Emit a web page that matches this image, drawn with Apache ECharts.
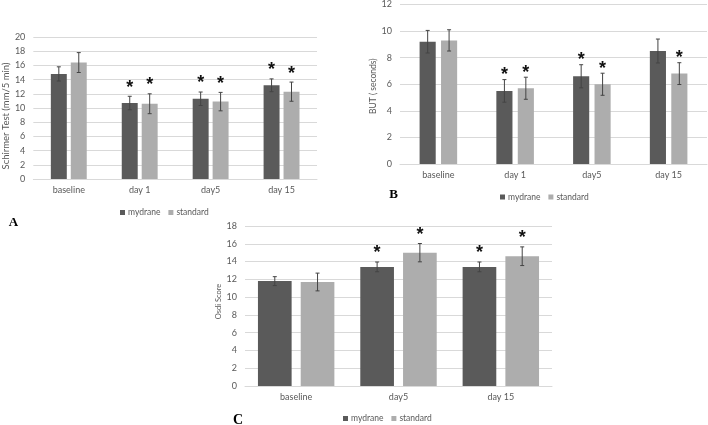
<!DOCTYPE html>
<html>
<head>
<meta charset="utf-8">
<script src="https://cdn.jsdelivr.net/npm/echarts@6/dist/echarts.min.js"></script>
<style>
html,body{margin:0;padding:0;background:#fff;}
#chart{width:708px;height:425px;}
</style>
</head>
<body>
<div id="chart"></div>
<script>
// ---- Data ----
const categoriesAB = ['baseline', 'day 1', 'day5', 'day 15'];
const categoriesC = ['baseline', 'day5', 'day 15'];
const seriesNames = ['mydrane', 'standard'];

// A: Schirmer test
const schirmerMydrane = [14.8, 10.7, 11.3, 13.2];
const schirmerMydraneErr = [1.0, 0.95, 0.95, 0.9];
const schirmerMydraneStar = [0, 1, 1, 1];
const schirmerStandard = [16.4, 10.6, 10.9, 12.3];
const schirmerStandardErr = [1.4, 1.4, 1.3, 1.35];
const schirmerStandardStar = [0, 1, 1, 1];
const schirmerTicks = { min: 0, max: 20, interval: 2 };

// B: BUT
const butMydrane = [9.2, 5.5, 6.6, 8.5];
const butMydraneErr = [0.85, 0.85, 0.87, 0.9];
const butMydraneStar = [0, 1, 1, 0];
const butStandard = [9.3, 5.7, 6.0, 6.8];
const butStandardErr = [0.8, 0.83, 0.83, 0.82];
const butStandardStar = [0, 1, 1, 1];
const butTicks = { min: 0, max: 12, interval: 2 };

// C: OSDI
const osdiMydrane = [11.8, 13.4, 13.4];
const osdiMydraneErr = [0.5, 0.55, 0.55];
const osdiMydraneStar = [0, 1, 1];
const osdiStandard = [11.7, 15.0, 14.6];
const osdiStandardErr = [1.0, 1.03, 1.05];
const osdiStandardStar = [0, 1, 1];
const osdiTicks = { min: 0, max: 18, interval: 2 };

// ---- Styling ----
const DARK = '#5a5a5a';
const LIGHT = '#adadad';
const GRIDLINE = '#d9d9d9';
const TXT = '#595959';
const FONT = 'Lato, "Open Sans", sans-serif';

const layouts = [
  { grid: { left: 32, top: 37, width: 285, height: 142 }, bw: 0.225, gap: 0.25, starGap: 12.5,
    name: 'Schirmer Test (mm/5 min)', nameSize: 9.5, nameGap: 22, namePad: [0, 16, 0, 0],
    legend: { left: 115, top: 203 },
    letter: { text: 'A', x: 13.5, y: 222.5, size: 13 } },
  { grid: { left: 400, top: 4, width: 307, height: 160 }, bw: 0.21, gap: 0.33, starGap: 8.5,
    name: 'BUT ( seconds)', nameSize: 8.5, nameGap: 22, namePad: [0, 4, 0, 0],
    legend: { left: 495, top: 187.5 },
    letter: { text: 'B', x: 394, y: 195, size: 13 } },
  { grid: { left: 245, top: 226, width: 307, height: 160 }, bw: 0.329, gap: 0.27, starGap: 12.5,
    name: 'Osdi Score', nameSize: 7.5, nameGap: 22, namePad: [0, 0, 0, 9],
    legend: { left: 338, top: 409 },
    letter: { text: 'C', x: 238, y: 420.5, size: 14 } }
];

const chartData = [
  { cats: categoriesAB, ticks: schirmerTicks,
    s: [[schirmerMydrane, schirmerMydraneErr, schirmerMydraneStar], [schirmerStandard, schirmerStandardErr, schirmerStandardStar]] },
  { cats: categoriesAB, ticks: butTicks,
    s: [[butMydrane, butMydraneErr, butMydraneStar], [butStandard, butStandardErr, butStandardStar]] },
  { cats: categoriesC, ticks: osdiTicks,
    s: [[osdiMydrane, osdiMydraneErr, osdiMydraneStar], [osdiStandard, osdiStandardErr, osdiStandardStar]] }
];

const grids = [], xAxes = [], yAxes = [], series = [], legends = [], graphics = [];

layouts.forEach((L, gi) => {
  const D = chartData[gi];
  grids.push(Object.assign({}, L.grid));
  xAxes.push({
    type: 'category', gridIndex: gi, data: D.cats,
    axisLine: { show: true, lineStyle: { color: GRIDLINE, width: 1 } },
    axisTick: { show: false },
    axisLabel: { color: TXT, fontSize: 9, fontFamily: FONT, margin: 7 }
  });
  yAxes.push({
    type: 'value', gridIndex: gi, min: D.ticks.min, max: D.ticks.max, interval: D.ticks.interval,
    name: L.name, nameLocation: 'middle', nameGap: L.nameGap,
    nameTextStyle: { color: TXT, fontSize: L.nameSize, fontFamily: FONT, padding: L.namePad },
    axisLine: { show: false }, axisTick: { show: false },
    axisLabel: { color: TXT, fontSize: 9, fontFamily: FONT, margin: 8 },
    splitLine: { lineStyle: { color: GRIDLINE, width: 1 } }
  });
  D.s.forEach((sd, si) => {
    series.push({
      type: 'bar', name: seriesNames[si], xAxisIndex: gi, yAxisIndex: gi,
      data: sd[0], barWidth: (L.bw * 100) + '%', barGap: (L.gap * 100) + '%',
      itemStyle: { color: si === 0 ? DARK : LIGHT }, silent: true, animation: false
    });
  });
  D.s.forEach((sd, si) => {
    const sign = si === 0 ? -1 : 1;
    series.push({
      type: 'custom', name: 'err' + gi + '_' + si, xAxisIndex: gi, yAxisIndex: gi, z: 10,
      silent: true, animation: false,
      data: sd[0].map((v, i) => [i, v, sd[1][i], sd[2][i]]),
      encode: { x: 0, y: 1 },
      renderItem: (params, api) => {
        const i = api.value(0), v = api.value(1), e = api.value(2), s = api.value(3);
        const c = api.coord([i, v]);
        const catW = api.size([1, 0])[0];
        const bw = catW * L.bw;
        const x = c[0] + sign * bw * (1 + L.gap) / 2;
        const yt = api.coord([i, v + e])[1];
        const yb = api.coord([i, v - e])[1];
        const st = { stroke: '#444', lineWidth: 1 };
        const children = [
          { type: 'line', shape: { x1: x, y1: yt, x2: x, y2: yb }, style: st },
          { type: 'line', shape: { x1: x - 2, y1: yt, x2: x + 2, y2: yt }, style: st },
          { type: 'line', shape: { x1: x - 2, y1: yb, x2: x + 2, y2: yb }, style: st }
        ];
        if (s) {
          children.push({ type: 'text', style: {
            text: '*', x: x, y: yt - L.starGap + 4, align: 'center', verticalAlign: 'middle',
            fill: '#111', font: 'bold 18px "Liberation Sans", Arial, sans-serif' } });
        }
        return { type: 'group', children };
      }
    });
  });
  legends.push({
    data: seriesNames, left: L.legend.left, top: L.legend.top,
    icon: 'rect', itemWidth: 5, itemHeight: 5, itemGap: 8,
    textStyle: { color: TXT, fontSize: 8.5, fontFamily: FONT, padding: [0, 0, 0, -2] },
    selectedMode: false
  });
  graphics.push({
    type: 'text', left: L.letter.x - L.letter.size * 0.36, top: L.letter.y - L.letter.size * 0.5,
    style: { text: L.letter.text, fill: '#000', font: 'bold ' + L.letter.size + 'px "Liberation Serif", "DejaVu Serif", serif' }
  });
});

const chart = echarts.init(document.getElementById('chart'), null, { renderer: 'canvas' });
chart.setOption({
  animation: false,
  backgroundColor: '#fff',
  grid: grids, xAxis: xAxes, yAxis: yAxes, series, legend: legends, graphic: graphics
});
</script>
</body>
</html>
